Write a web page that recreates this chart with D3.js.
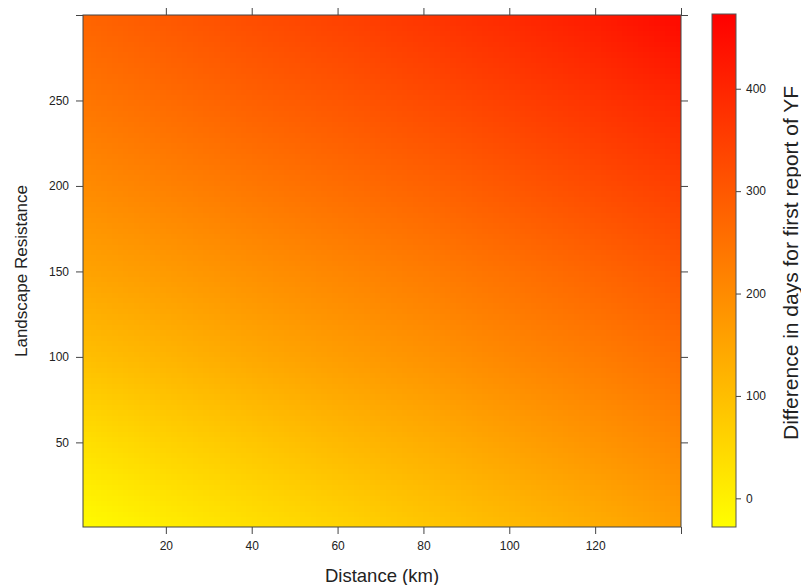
<!DOCTYPE html>
<html>
<head>
<meta charset="utf-8">
<script src="https://cdn.jsdelivr.net/npm/d3@7"></script>
<style>
  body { margin: 0; background: #fff; }
  text { font-family: "Liberation Sans", Arial, sans-serif; fill: #222; }
</style>
</head>
<body>
<script>
// grid nodes
const distance = [0, 20, 40, 60, 80, 100, 120, 140];
const resistance = [0, 50, 100, 150, 200, 250, 300];
// one row per resistance value (bottom to top), one entry per distance
const dayDiff = [
  [-25,   5,  30,  55,  80, 105, 132, 160],
  [ 30,  58,  83, 107, 130, 155, 180, 205],
  [ 95, 118, 140, 162, 182, 205, 228, 252],
  [150, 168, 188, 208, 228, 250, 273, 298],
  [198, 217, 237, 257, 277, 300, 323, 348],
  [240, 261, 282, 303, 324, 347, 371, 397],
  [275, 298, 321, 344, 367, 391, 418, 455]
];
const xTicks = [20, 40, 60, 80, 100, 120, 140];
const xLabels = [20, 40, 60, 80, 100, 120];
const yTicks = [50, 100, 150, 200, 250, 300];
const yLabels = [50, 100, 150, 200, 250];
const keyTicks = [0, 100, 200, 300, 400];
const zRange = [-28, 473];

const W = 801, H = 585;
const panel = {left: 83, right: 681, top: 15, bottom: 527};
const key = {left: 712, right: 736, top: 14, bottom: 527};

const svg = d3.select('body').append('svg')
    .attr('width', W)
    .attr('height', H);

const xScale = d3.scaleLinear().domain([0.7, 140]).range([panel.left, panel.right]);
const yScale = d3.scaleLinear().domain([0.5, 300]).range([panel.bottom, panel.top]);
const color = d3.scaleLinear().domain(zRange).range(['#ffff00', '#ff0000']);

// raster: one pixel per grid node, stretched (smoothed) by the browser
const nx = distance.length, ny = resistance.length;
const cv = document.createElement('canvas');
cv.width = nx; cv.height = ny;
const ctx = cv.getContext('2d');
dayDiff.forEach(function(row, j){
  row.forEach(function(v, i){
    ctx.fillStyle = color(v);
    ctx.fillRect(i, ny - 1 - j, 1, 1);
  });
});
const dx = distance[1] - distance[0], dy = resistance[1] - resistance[0];

svg.append('clipPath').attr('id', 'clip')
  .append('rect')
    .attr('x', panel.left).attr('y', panel.top)
    .attr('width', panel.right - panel.left)
    .attr('height', panel.bottom - panel.top);

svg.append('g').attr('clip-path', 'url(#clip)')
  .append('image')
    .attr('href', cv.toDataURL())
    .attr('preserveAspectRatio', 'none')
    .attr('x', xScale(distance[0] - dx / 2))
    .attr('y', yScale(resistance[ny - 1] + dy / 2))
    .attr('width', xScale(distance[nx - 1] + dx / 2) - xScale(distance[0] - dx / 2))
    .attr('height', yScale(resistance[0] - dy / 2) - yScale(resistance[ny - 1] + dy / 2))
    .style('image-rendering', 'auto');

// axes
function fmt(labels){
  return function(d){ return labels.indexOf(d) >= 0 ? d : ''; };
}
const axes = [
  {ax: d3.axisBottom(xScale).tickValues(xTicks).tickFormat(fmt(xLabels)), t: 'translate(0,' + panel.bottom + ')'},
  {ax: d3.axisTop(xScale).tickValues(xTicks).tickFormat(''), t: 'translate(0,' + panel.top + ')'},
  {ax: d3.axisLeft(yScale).tickValues(yTicks).tickFormat(fmt(yLabels)), t: 'translate(' + panel.left + ',0)'},
  {ax: d3.axisRight(yScale).tickValues(yTicks).tickFormat(''), t: 'translate(' + panel.right + ',0)'}
];
axes.forEach(function(a){
  const g = svg.append('g').attr('transform', a.t)
    .call(a.ax.tickSizeOuter(0).tickSize(7).tickPadding(7));
  g.select('.domain').remove();
  g.selectAll('line').attr('stroke', '#444');
  g.selectAll('text').style('font-size', '12px').attr('fill', '#222');
});

svg.append('rect')
  .attr('x', panel.left).attr('y', panel.top)
  .attr('width', panel.right - panel.left)
  .attr('height', panel.bottom - panel.top)
  .attr('fill', 'none')
  .attr('stroke', '#444');

// colour key
const kScale = d3.scaleLinear().domain(zRange).range([key.bottom, key.top]);
const grad = svg.append('defs').append('linearGradient')
  .attr('id', 'kgrad').attr('x1', 0).attr('x2', 0).attr('y1', 1).attr('y2', 0);
grad.append('stop').attr('offset', 0).attr('stop-color', color(zRange[0]));
grad.append('stop').attr('offset', 1).attr('stop-color', color(zRange[1]));

svg.append('rect')
  .attr('x', key.left).attr('y', key.top)
  .attr('width', key.right - key.left)
  .attr('height', key.bottom - key.top)
  .attr('fill', 'url(#kgrad)')
  .attr('stroke', '#555');

const kg = svg.append('g').attr('transform', 'translate(' + key.right + ',0)')
  .call(d3.axisRight(kScale).tickValues(keyTicks).tickSize(5).tickPadding(5).tickSizeOuter(0));
kg.select('.domain').remove();
kg.selectAll('line').attr('stroke', '#444');
kg.selectAll('text').style('font-size', '12px').attr('fill', '#222');

// titles
svg.append('text')
  .attr('x', (panel.left + panel.right) / 2)
  .attr('y', 582)
  .attr('text-anchor', 'middle')
  .style('font-size', '18.5px')
  .text('Distance (km)');

svg.append('text')
  .attr('transform', 'translate(27,' + (panel.top + panel.bottom) / 2 + ') rotate(-90)')
  .attr('text-anchor', 'middle')
  .style('font-size', '17px')
  .text('Landscape Resistance');

svg.append('text')
  .attr('transform', 'translate(798,263) rotate(-90)')
  .attr('text-anchor', 'middle')
  .style('font-size', '21px')
  .text('Difference in days for first report of YF');
</script>
</body>
</html>
